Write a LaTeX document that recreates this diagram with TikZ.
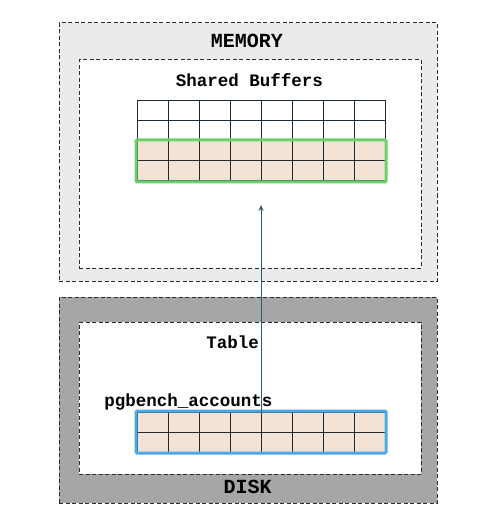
\documentclass[tikz,border=0pt]{standalone}
\usepackage{fontspec}
\setmonofont{Liberation Mono}
\usetikzlibrary{arrows.meta,fit}
\definecolor{ink}{HTML}{2B2B2B}
\definecolor{memfill}{HTML}{EBEBEB}
\definecolor{diskfill}{HTML}{A6A6A6}
\definecolor{gridink}{HTML}{1C2B36}
\definecolor{peach}{HTML}{F5E2D6}
\definecolor{hit}{HTML}{6DD06A}
\definecolor{scan}{HTML}{4EA8E6}
\definecolor{wire}{HTML}{2E5878}
\tikzset{
  zone/.style={draw=ink, line width=1pt, dash pattern=on 4pt off 2.5pt,
               inner sep=0pt, outer sep=0pt},
  area/.style={zone, fill=white},
  cell/.style={draw=gridink, line width=1pt, inner sep=0pt, outer sep=0pt,
               minimum width=31pt, minimum height=20pt},
  page/.style={cell, fill=peach},
  title/.style={anchor=base, inner sep=0pt, font=\fontsize{20}{20}\selectfont\ttfamily\bfseries},
  lbl/.style={anchor=base, inner sep=0pt, font=\fontsize{17.5}{17.5}\selectfont\ttfamily\bfseries},
  ring/.style={line width=3pt, inner sep=1pt, rounded corners=1pt},
  ar/.style={-{Stealth[length=6pt,width=5pt]}, line width=0.9pt, color=wire},
}
\begin{document}
\begin{tikzpicture}[x=1pt, y=-1pt]
\useasboundingbox (0,0) rectangle (494,518);

% --- MEMORY ---
\node[zone, fill=memfill, minimum width=378pt, minimum height=258pt] (mem) at (248,152) {};
\node[area, minimum width=342pt, minimum height=208pt] (buf) at (250,164) {};
\node[title] (memlbl) at (247,48) {MEMORY};
\node[lbl] (buflbl) at (249.5,87) {Shared Buffers};

\foreach \c in {0,...,7} {
  \foreach \r in {0,1}
    \node[cell] (b-\c-\r) at (152.5+31*\c, 111+20*\r) {};
  \foreach \r in {2,3}
    \node[page] (b-\c-\r) at (152.5+31*\c, 111+20*\r) {};
}
\node[fit=(b-0-2)(b-7-3), draw=hit, ring] (hitbox) {};

% --- DISK ---
\node[zone, fill=diskfill, minimum width=378pt, minimum height=206pt] (disk) at (248,400) {};
\node[area, minimum width=342pt, minimum height=152pt] (tbl) at (250,398) {};
\node[lbl] (tbllbl) at (232.5,348) {Table};
\node[lbl] (relname) at (188.5,406) {pgbench\_accounts};
\node[title] (disklbl) at (247.5,493) {DISK};

\foreach \c in {0,...,7}
  \foreach \r in {0,1}
    \node[page] (d-\c-\r) at (152.5+31*\c, 422+20*\r) {};
\node[fit=(d-0-0)(d-7-1), draw=scan, ring] (scanbox) {};

% --- READ ---
\coordinate (land) at (261,205);
\draw[ar] (d-3-0.north east) -- (land);

\end{tikzpicture}
\end{document}
